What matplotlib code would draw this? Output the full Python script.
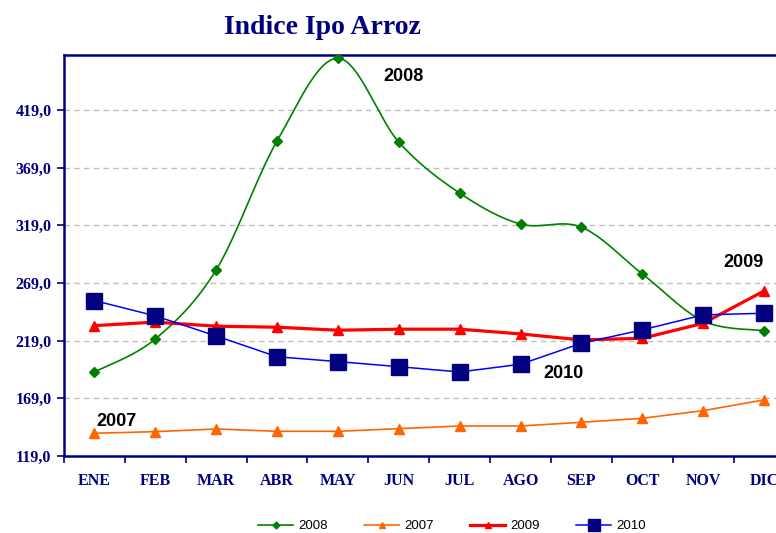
import numpy as np
import matplotlib
matplotlib.use("Agg")
import matplotlib.pyplot as plt

# Data
months = ["ENE", "FEB", "MAR", "ABR", "MAY", "JUN", "JUL", "AGO", "SEP", "OCT", "NOV", "DIC"]
v2008 = [191.8, 220.4, 280.3, 392.0, 463.7, 391.0, 346.8, 320.0, 317.3, 276.8, 236.0, 227.6]
v2007 = [138.7, 140.1, 142.4, 140.4, 140.4, 142.7, 145.0, 145.0, 148.2, 151.7, 158.3, 167.6]
v2009 = [232.0, 235.0, 231.5, 230.6, 228.0, 228.9, 228.9, 224.8, 219.6, 221.0, 234.0, 262.0]
v2010 = [253.7, 240.4, 223.0, 205.0, 200.8, 196.4, 191.8, 198.5, 216.7, 228.3, 241.3, 242.7]
yticks = [119, 169, 219, 269, 319, 369, 419]

navy = "#000080"


def smooth(xs, ys, n=30):
    # Bezier smoothing through the points (Catmull-Rom style, like Excel)
    p = np.column_stack([xs, ys]).astype(float)
    out = []
    for i in range(len(p) - 1):
        p0 = p[max(i - 1, 0)]
        p1 = p[i]
        p2 = p[i + 1]
        p3 = p[min(i + 2, len(p) - 1)]
        c1 = p1 + (p2 - p0) / 6.0
        c2 = p2 - (p3 - p1) / 6.0
        t = np.linspace(0, 1, n)[:, None]
        seg = ((1 - t) ** 3) * p1 + 3 * ((1 - t) ** 2) * t * c1 + 3 * (1 - t) * t ** 2 * c2 + t ** 3 * p2
        out.append(seg if i == 0 else seg[1:])
    seg = np.vstack(out)
    return seg[:, 0], seg[:, 1]


x = np.arange(len(months))

fig = plt.figure(figsize=(7.76, 5.33), dpi=100)
ax = fig.add_axes([64 / 776, 77 / 533, 730.5 / 776, 401 / 533])

# 2008 - smoothed green line with diamonds
sx, sy = smooth(x, v2008)
ax.plot(sx, sy, color="#008000", lw=1.2, zorder=3)
ax.plot(x, v2008, ls="none", marker="D", ms=5, color="#008000", zorder=3)
ax.plot([], [], color="#008000", lw=1.2, marker="D", ms=5, label="2008")

ax.plot(x, v2007, color="#FF6600", lw=1.2, marker="^", ms=7, label="2007", zorder=3)
ax.plot(x, v2009, color="#FF0000", lw=2.3, marker="^", ms=7, label="2009", zorder=4)
ax.plot(x, v2010, color="#0000FF", lw=1.1, marker="s", ms=11.5,
        mfc=navy, mec=navy, label="2010", zorder=5)

# labels on the lines
ax.text(5.07, 447.6, "2008", fontsize=13, fontweight="bold", ha="center", va="center",
        family="Liberation Sans")
ax.text(7.7, 190.1, "2010", fontsize=13, fontweight="bold", ha="center", va="center",
        family="Liberation Sans")
ax.text(10.66, 286.3, "2009", fontsize=13, fontweight="bold", ha="center", va="center",
        family="Liberation Sans")
ax.text(0.36, 149.3, "2007", fontsize=13, fontweight="bold", ha="center", va="center",
        family="Liberation Sans")

ax.set_xlim(-0.5, 11.5)
ax.set_ylim(119, 466.5)

ax.set_yticks(yticks)
ax.set_yticklabels([f"{v},0" for v in yticks])
ax.set_xticks(x)
ax.set_xticklabels(months)
ax.set_xticks(np.arange(-0.5, 12, 1), minor=True)

for lab in ax.get_xticklabels() + ax.get_yticklabels():
    lab.set_family("Liberation Serif")
    lab.set_fontweight("bold")
    lab.set_color(navy)
    lab.set_fontsize(11.5)

ax.tick_params(axis="x", which="major", length=0, pad=12)
ax.tick_params(axis="x", which="minor", length=5, width=1.2, color=navy, direction="out")
ax.tick_params(axis="y", length=5, width=1.2, color=navy, direction="out", pad=4)

for sp in ax.spines.values():
    sp.set_color(navy)
    sp.set_linewidth(1.8)

ax.grid(axis="y", color="#C0C0C0", ls=(0, (4, 3)), lw=1)
ax.set_axisbelow(True)

fig.text(322 / 776, 1 - 27 / 533, "Indice Ipo Arroz", fontsize=20, fontweight="bold",
         color=navy, family="Liberation Serif", ha="center", va="center")

fig.legend(loc="center", bbox_to_anchor=(452 / 776, 1 - 526 / 533), ncol=4,
           frameon=False, prop={"family": "Liberation Sans", "size": 9.5},
           handlelength=2.6, columnspacing=2.8, handletextpad=0.4, markerscale=0.7)

fig.savefig("out.png", dpi=100)
